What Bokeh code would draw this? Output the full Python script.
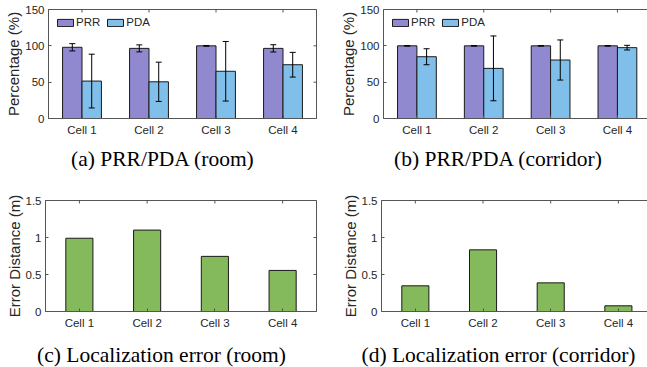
import math
from bokeh.plotting import figure
from bokeh.models import (ColumnDataSource, Whisker, Legend, LegendItem, LinearAxis,
                          FixedTicker, Range1d, TeeHead)
from bokeh.core.properties import value
from bokeh.layouts import column, row
from bokeh.embed import file_html
from bokeh.resources import INLINE

# ---------------- data ----------------
cells = ["Cell 1", "Cell 2", "Cell 3", "Cell 4"]

room_prr = [98, 96.5, 100, 96.5]
room_prr_err = [5, 4.8, 0.5, 5]
room_pda = [51.5, 50.5, 65, 74]
room_pda_err = [37, 27, 41, 17]

corr_prr = [100, 100, 100, 100]
corr_prr_err = [0.4, 0.4, 0.4, 0.4]
corr_pda = [85, 69, 80.5, 97.5]
corr_pda_err = [11, 44.6, 27.6, 3.2]

room_loc_err = [0.99, 1.10, 0.745, 0.555]
corr_loc_err = [0.347, 0.833, 0.387, 0.077]

pct_ticks = [0, 50, 100, 150]
dist_ticks = [0, 0.5, 1, 1.5]
dist_tick_labels = ["0", "0.5", "1", "1.5"]

captions = ["(a) PRR/PDA (room)", "(b) PRR/PDA (corridor)",
            "(c) Localization error (room)", "(d) Localization error (corridor)"]

# ---------------- style ----------------
C_PRR = "#9189D0"
C_PDA = "#7FBFEA"
C_GRN = "#84BA5B"
AX = "#555555"
TXT = "#262626"
SANS = "Liberation Sans"
SERIF = "Liberation Serif"
TICK_FS = "11.5px"
LAB_FS = "15px"
CAP_FS = "21.5px"

xpos = [i + 1 for i in range(len(cells))]


def base_fig(width, height, yr, mb, xend):
    p = figure(width=width, height=height, output_backend="svg", toolbar_location=None,
               x_range=Range1d(0.5, xend), y_range=Range1d(*yr),
               min_border_left=mb[0], min_border_right=mb[1],
               min_border_top=mb[2], min_border_bottom=mb[3])
    p.xgrid.visible = False
    p.ygrid.visible = False
    p.background_fill_color = "white"
    p.border_fill_color = "white"
    return p


def style_axis(ax):
    ax.axis_line_color = AX
    ax.axis_line_width = 1
    ax.major_tick_line_color = AX
    ax.major_tick_in = 3
    ax.major_tick_out = 0
    ax.minor_tick_line_color = None
    ax.major_label_text_color = TXT
    ax.major_label_text_font = SANS
    ax.major_label_text_font_size = TICK_FS
    ax.major_label_standoff = 4
    ax.axis_label_text_font = SANS
    ax.axis_label_text_font_size = LAB_FS
    ax.axis_label_text_font_style = "normal"
    ax.axis_label_text_color = TXT
    ax.axis_label_standoff = 0


def decorate(p, yr, xend, yticks, ylabel, ylabels=None, boxed=True):
    xa = p.xaxis[0]
    style_axis(xa)
    xa.ticker = FixedTicker(ticks=xpos)
    xa.major_label_overrides = {x: c for x, c in zip(xpos, cells)}
    xa.major_label_standoff = 5
    ya = p.yaxis[0]
    style_axis(ya)
    ya.ticker = FixedTicker(ticks=yticks)
    ya.axis_label = ylabel
    if ylabels is not None:
        ya.major_label_overrides = {t: l for t, l in zip(yticks, ylabels)}
    # inward tick marks on the top edge (clipped to the frame)
    p.scatter(x=xpos, y=[yr[1]] * len(xpos), marker="dash", angle=math.pi / 2,
              size=6, line_color=AX, line_width=1)
    if boxed:
        p.outline_line_color = AX
        # inward ticks on the right edge
        p.scatter(x=[xend] * len(yticks), y=yticks, marker="dash", size=6,
                  line_color=AX, line_width=1)
    else:
        p.outline_line_color = None
        top = LinearAxis(ticker=FixedTicker(ticks=[]))
        style_axis(top)
        p.add_layout(top, "above")


def pct_panel(width, mb, xend, prr, prr_err, pda, pda_err, boxed):
    yr = (0, 150)
    p = base_fig(width, 146, yr, mb, xend)
    off = 0.145
    bw = 0.29
    src = ColumnDataSource(dict(
        xa=[x - off for x in xpos], xb=[x + off for x in xpos],
        prr=prr, pda=pda,
        prr_lo=[v - e for v, e in zip(prr, prr_err)], prr_hi=[v + e for v, e in zip(prr, prr_err)],
        pda_lo=[v - e for v, e in zip(pda, pda_err)], pda_hi=[v + e for v, e in zip(pda, pda_err)],
    ))
    r1 = p.vbar(x="xa", top="prr", width=bw, source=src, fill_color=C_PRR,
                line_color="#1a1a1a", line_width=1)
    r2 = p.vbar(x="xb", top="pda", width=bw, source=src, fill_color=C_PDA,
                line_color="#1a1a1a", line_width=1)
    for base, lo, hi in (("xa", "prr_lo", "prr_hi"), ("xb", "pda_lo", "pda_hi")):
        w = Whisker(base=base, lower=lo, upper=hi, source=src, line_color="black",
                    line_width=1, level="overlay",
                    upper_head=TeeHead(size=6, line_color="black", line_width=1),
                    lower_head=TeeHead(size=6, line_color="black", line_width=1))
        p.add_layout(w)
    leg = Legend(items=[LegendItem(label="PRR", renderers=[r1]),
                        LegendItem(label="PDA", renderers=[r2])],
                 location="top_left", orientation="horizontal",
                 glyph_width=20, glyph_height=9, label_standoff=1, spacing=5,
                 padding=0, margin=7, border_line_color=None, background_fill_alpha=0,
                 label_text_font=SANS, label_text_font_size=TICK_FS, label_text_color=TXT)
    p.add_layout(leg)
    decorate(p, yr, xend, pct_ticks, "Percentage (%)", boxed=boxed)
    return p


def err_panel(width, mb, xend, vals, boxed):
    yr = (0, 1.5)
    p = base_fig(width, 171, yr, mb, xend)
    src = ColumnDataSource(dict(x=xpos, v=vals))
    p.vbar(x="x", top="v", width=0.4, source=src, fill_color=C_GRN,
           line_color="#1a1a1a", line_width=1)
    decorate(p, yr, xend, dist_ticks, "Error Distance (m)", ylabels=dist_tick_labels,
             boxed=boxed)
    return p


def caption_fig(width, height, text, cx):
    c = figure(width=width, height=height, output_backend="svg", toolbar_location=None,
               x_range=Range1d(0, width), y_range=Range1d(0, height),
               min_border=0, outline_line_color=None)
    c.axis.visible = False
    c.grid.visible = False
    c.text(x=[cx], y=[height / 2], text=[text], text_align="center",
           text_baseline="middle", text_font=value(SERIF),
           text_font_size=value(CAP_FS), text_color="black")
    return c


p1 = pct_panel(328, (48, 12, 9, 28), 4.5, room_prr, room_prr_err, room_pda, room_pda_err, True)
p2 = pct_panel(319, (55, 0, 9, 28), 4.45, corr_prr, corr_prr_err, corr_pda, corr_pda_err, False)
p3 = err_panel(328, (45, 12, 30, 30), 4.5, room_loc_err, True)
p4 = err_panel(319, (53, 0, 30, 30), 4.43, corr_loc_err, False)

c1 = caption_fig(328, 24, captions[0], 162.5)
c2 = caption_fig(319, 24, captions[1], 170)
c3 = caption_fig(328, 26, captions[2], 161)
c4 = caption_fig(319, 26, captions[3], 170)

layout = column(row(p1, p2), row(c1, c2), row(p3, p4), row(c3, c4))

open("out.html", "w").write(file_html(layout, INLINE))
